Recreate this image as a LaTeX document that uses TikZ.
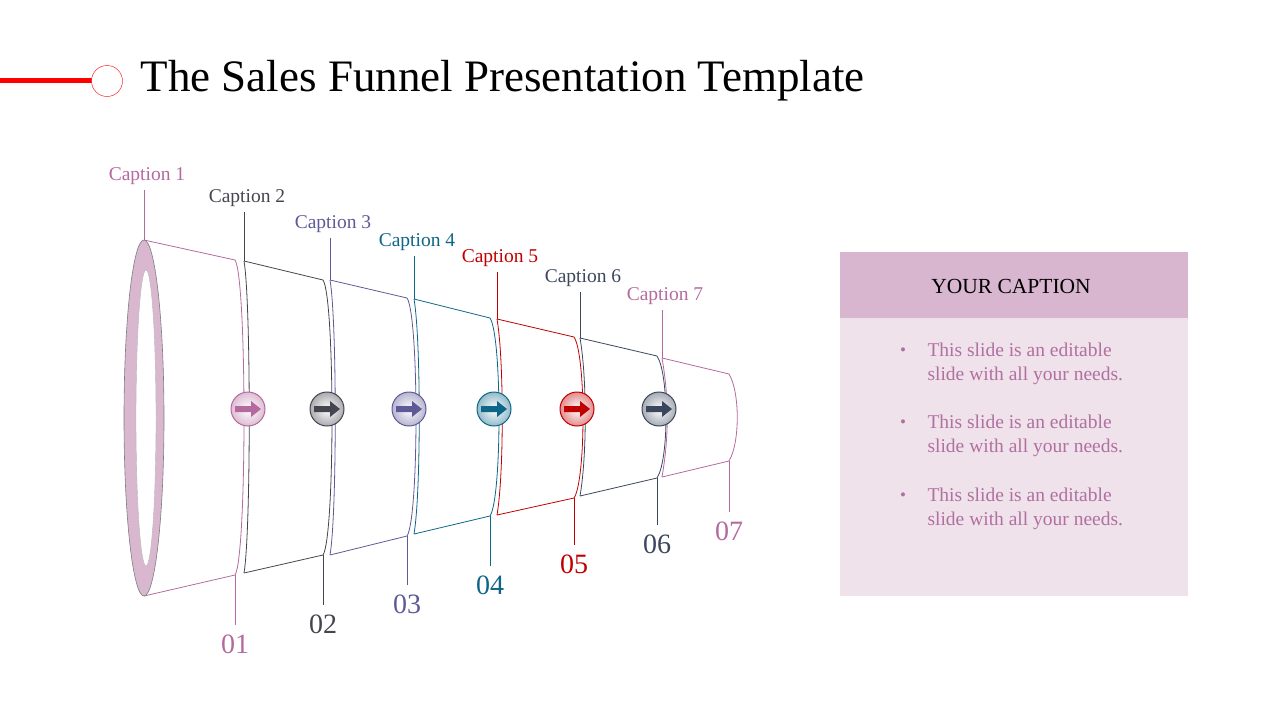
\documentclass[tikz,border=0pt]{standalone}
\usepackage{fontspec}
\setmainfont{Liberation Serif}
\usetikzlibrary{positioning}
\definecolor{cpink}{HTML}{B46A9E}
\definecolor{cgray}{HTML}{45454F}
\definecolor{cpurp}{HTML}{5E5A98}
\definecolor{cteal}{HTML}{0E6688}
\definecolor{cred}{HTML}{C00000}
\definecolor{cslate}{HTML}{3A475C}
\definecolor{ringpink}{HTML}{D9B7CE}
\definecolor{headpink}{HTML}{D9B6CF}
\definecolor{bodypink}{HTML}{F0E2EB}
\definecolor{bullpink}{HTML}{B070A0}
\tikzset{
  captxt/.style={font=\fontsize{19.5}{22}\selectfont, anchor=south, inner sep=5pt},
  numtxt/.style={font=\fontsize{28}{30}\selectfont, anchor=north, inner sep=10pt},
  ball/.style={circle, minimum size=34pt, inner sep=0pt, draw=#1, line width=1pt,
    inner color=white, outer color=#1!45},
  bultxt/.style={font=\fontsize{19.5}{24}\selectfont, text=bullpink, align=left, anchor=north west}
}
\begin{document}
\begin{tikzpicture}[x=1pt,y=-1pt]
\useasboundingbox (0,0) rectangle (1280,720);

% title
\draw[red, line width=5pt] (0,80) -- (92,80);
\node[circle, draw=red, fill=white, minimum size=31pt, inner sep=0pt] (dot) at (107,81) {};
\node[anchor=west, font=\fontsize{45}{50}\selectfont] (title) at (137,81) {The Sales Funnel Presentation Template};

% segments
\foreach \i/\xl/\ytl/\ybl/\xr/\ytr/\ybr/\cy/\ny/\bw/\col in {
  1/144/240/596/235/260/575/190/625/12/cpink,
  2/244/261/573/323/280/555/212/605/12/cgray,
  3/330/280/555/407/298/536/238/585/12/cpurp,
  4/414/299/534/490/318/516/256/566/12/cteal,
  5/497/319/515/574/337/498/272/545/12/cred,
  6/580/338/496/657/356/478/292/525/12/cslate,
  7/662/358/477/729/374/461/310/512/11/cpink} {
  \coordinate (tl\i) at (\xl,\ytl);
  \coordinate (bl\i) at (\xl,\ybl);
  \coordinate (tr\i) at (\xr,\ytr);
  \coordinate (br\i) at (\xr,\ybr);
  \coordinate (cap\i) at (\xl,\cy);
  \coordinate (num\i) at (\xr,\ny);
  \draw[\col, line width=0.8pt] (bl\i) -- (br\i)
    .. controls (\xr+\bw,\ybr-18) and (\xr+\bw,\ytr+18) .. (tr\i) -- (tl\i);
  \ifnum\i>1
    \draw[\col, line width=0.8pt] (tl\i) .. controls (\xl+7,\ytl+40) and (\xl+7,\ybl-40) .. (bl\i);
  \fi
  \draw[\col, line width=0.8pt] (cap\i) -- (tl\i);
  \draw[\col, line width=0.8pt] (br\i) -- (num\i);
  \node[captxt, text=\col] (c\i) at ([xshift=3pt]cap\i) {Caption \i};
  \node[numtxt, text=\col] (n\i) at (num\i) {0\i};
}

% mouth of the funnel
\draw[cgray!70, fill=ringpink, line width=0.6pt] (144,418) ellipse [x radius=20, y radius=178];
\draw[cgray!40, fill=white, line width=0.4pt] (146,418) ellipse [x radius=10, y radius=148];

% arrow balls
\foreach \j/\x/\col in {1/248/cpink, 2/327/cgray, 3/409/cpurp, 4/494/cteal, 5/577/cred, 6/659/cslate} {
  \node[ball=\col] (b\j) at (\x,409) {};
  \fill[\col] (\x-13,406) -- (\x+3,406) -- (\x+3,401) -- (\x+13,409) -- (\x+3,417)
    -- (\x+3,412) -- (\x-13,412) -- cycle;
}

% caption box
\fill[headpink] (840,252) rectangle (1188,318);
\fill[bodypink] (840,318) rectangle (1188,596);
\node[font=\fontsize{21.5}{24}\selectfont] (head) at (1011,286) {YOUR CAPTION};
\foreach \k/\y in {1/339, 2/411, 3/484} {
  \node[text=bullpink, font=\fontsize{17}{20}\selectfont] (dot\k) at (903,\y+13) {\textbullet};
  \node[bultxt] (txt\k) at (924,\y) {This slide is an editable\\slide with all your needs.};
}
\end{tikzpicture}
\end{document}
